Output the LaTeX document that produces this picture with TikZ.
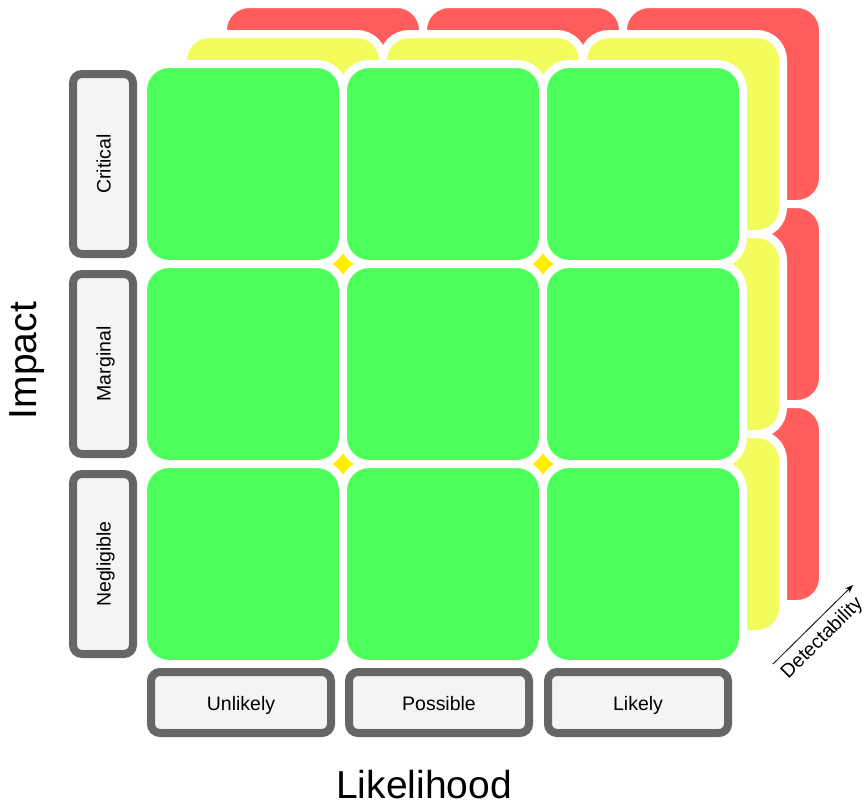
\documentclass[tikz,border=0pt]{standalone}
\usepackage{fontspec}
\setmainfont{Liberation Sans}
\usetikzlibrary{arrows.meta}
\definecolor{merah}{RGB}{255,92,92}
\definecolor{kuning}{RGB}{242,252,92}
\definecolor{kuningtua}{RGB}{255,238,0}
\definecolor{hijau}{RGB}{77,255,90}
\definecolor{abu}{RGB}{102,102,102}
\definecolor{abumuda}{RGB}{244,244,244}
\newcommand{\lapisan}[3]{\foreach \i in {0,1,2} \foreach \j in {0,1,2}
  \filldraw[fill=#1,draw=white,line width=8pt,rounded corners=26pt] ({143+200*\i+#2},{64+200*\j+#3}) rectangle +(200,200);}
\newcommand{\bintang}[1]{\foreach \p in {#1} \fill[kuningtua] (\p) ++(-13,-13) rectangle +(26,26);}

\begin{document}
\begin{tikzpicture}[x=1pt,y=-1pt,
  kotak/.style={draw=abu,fill=abumuda,line width=8pt,rounded corners=9pt,
    text height=15pt,text depth=0pt,font=\fontsize{19.5}{19.5}\selectfont},
  baris/.style={kotak,rotate=90,minimum width=180pt,minimum height=60pt},
  kolom/.style={kotak,minimum width=180pt,minimum height=61pt},
  judul/.style={anchor=base,font=\fontsize{39}{39}\selectfont}]
  \useasboundingbox (0,0) rectangle (865,807);
  \coordinate (J1) at (343,264);
  \coordinate (J2) at (543,264);
  \coordinate (J3) at (343,464);
  \coordinate (J4) at (543,464);
  \coordinate (D0) at (773,664);
  \coordinate (D1) at (853,585);

  \lapisan{merah}{80}{-60}
  \lapisan{kuning}{40}{-30}
  \bintang{J1,J2,J3,J4}
  \lapisan{hijau}{0}{0}

  \node[baris] (critical)   at (103,164) {Critical};
  \node[baris] (marginal)   at (103,364) {Marginal};
  \node[baris] (negligible) at (103,564) {Negligible};
  \node[kolom] (unlikely)   at (241,702.5) {Unlikely};
  \node[kolom] (possible)   at (439,702.5) {Possible};
  \node[kolom] (likely)     at (638,702.5) {Likely};

  \node[judul,rotate=90] (impact)     at (36.5,360.5) {Impact};
  \node[judul]           (likelihood) at (424,798) {Likelihood};

  \draw[-{Stealth[length=8pt,width=6pt]},line width=0.8pt] (D0) -- (D1);
  \node[rotate=45,anchor=base,font=\fontsize{19.5}{19.5}\selectfont] (detect) at (826,642) {Detectability};
\end{tikzpicture}
\end{document}
